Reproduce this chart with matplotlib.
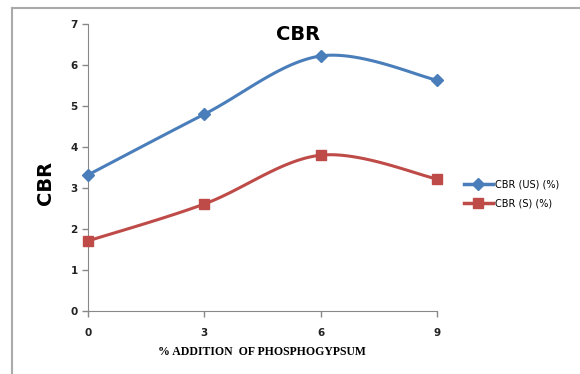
import numpy as np
import matplotlib
matplotlib.use("Agg")
from matplotlib import pyplot as plt
from matplotlib.lines import Line2D

# data
x_vals = [0, 3, 6, 9]
cbr_us = [3.32, 4.80, 6.22, 5.63]
cbr_s = [1.71, 2.61, 3.80, 3.22]
x_ticks = [0, 3, 6, 9]
y_ticks = [0, 1, 2, 3, 4, 5, 6, 7]

blue = "#4a7ebb"
red = "#be4b48"


def smooth(xs, ys, n=40):
    # excel-like smoothing: bezier segments with catmull-rom control points
    xs = np.asarray(xs, float)
    ys = np.asarray(ys, float)
    pts = np.column_stack([xs, ys])
    out = []
    for i in range(len(pts) - 1):
        p0 = pts[i - 1] if i > 0 else pts[i]
        p1 = pts[i]
        p2 = pts[i + 1]
        p3 = pts[i + 2] if i + 2 < len(pts) else pts[i + 1]
        c1 = p1 + (p2 - p0) / 6
        c2 = p2 - (p3 - p1) / 6
        t = np.linspace(0, 1, n)[:, None]
        seg = ((1 - t) ** 3) * p1 + 3 * ((1 - t) ** 2) * t * c1 + 3 * (1 - t) * t ** 2 * c2 + t ** 3 * p2
        out.append(seg if i == 0 else seg[1:])
    out = np.vstack(out)
    return out[:, 0], out[:, 1]


fig = plt.figure(figsize=(5.8, 3.74), dpi=100)
ax = fig.add_axes([88 / 580, 63 / 374, 349 / 580, 287 / 374])

sx, sy = smooth(x_vals, cbr_us)
ax.plot(sx, sy, color=blue, lw=2.2, zorder=3, clip_on=False)
ax.plot(x_vals, cbr_us, ls="none", marker="D", ms=6, color=blue, zorder=4, clip_on=False)
sx, sy = smooth(x_vals, cbr_s)
ax.plot(sx, sy, color=red, lw=2.2, zorder=3, clip_on=False)
ax.plot(x_vals, cbr_s, ls="none", marker="s", ms=7, color=red, zorder=4, clip_on=False)

ax.set_xlim(0, 9)
ax.set_ylim(0, 7)
ax.set_xticks(x_ticks)
ax.set_yticks(y_ticks)
ax.tick_params(colors="#888888", labelcolor="#222222", labelsize=7.5, length=4, width=1)
ax.tick_params(axis="x", pad=8)
for lab in ax.get_xticklabels() + ax.get_yticklabels():
    lab.set_fontweight("bold")
for s in ["top", "right"]:
    ax.spines[s].set_visible(False)
for s in ["left", "bottom"]:
    ax.spines[s].set_color("#888888")

fig.text(298 / 580, 1 - 35 / 374, "CBR", ha="center", va="center", fontsize=14, fontweight="bold")
fig.text(45 / 580, 1 - 183 / 374, "CBR", ha="center", va="center", rotation=90, fontsize=14, fontweight="bold")
fig.text(262 / 580, 1 - 352 / 374, "% ADDITION  OF PHOSPHOGYPSUM", ha="center", va="center",
         fontsize=8.5, fontweight="bold", family="Liberation Serif")

handles = [Line2D([], [], color=blue, lw=2.5, marker="D", ms=6),
           Line2D([], [], color=red, lw=2.5, marker="s", ms=7)]
fig.legend(handles, ["CBR (US) (%)", "CBR (S) (%)"], loc="center left",
           bbox_to_anchor=(455 / 580, 1 - 194 / 374), frameon=False, fontsize=7,
           handlelength=3, handletextpad=0.2, labelspacing=1.0)

# chart border
fig.add_artist(Line2D([12 / 580, 12 / 580], [0, 1 - 8 / 374], color="#aaaaaa", lw=1.5))
fig.add_artist(Line2D([12 / 580, 1], [1 - 8 / 374, 1 - 8 / 374], color="#aaaaaa", lw=1.5))

fig.savefig("out.png", dpi=100)
